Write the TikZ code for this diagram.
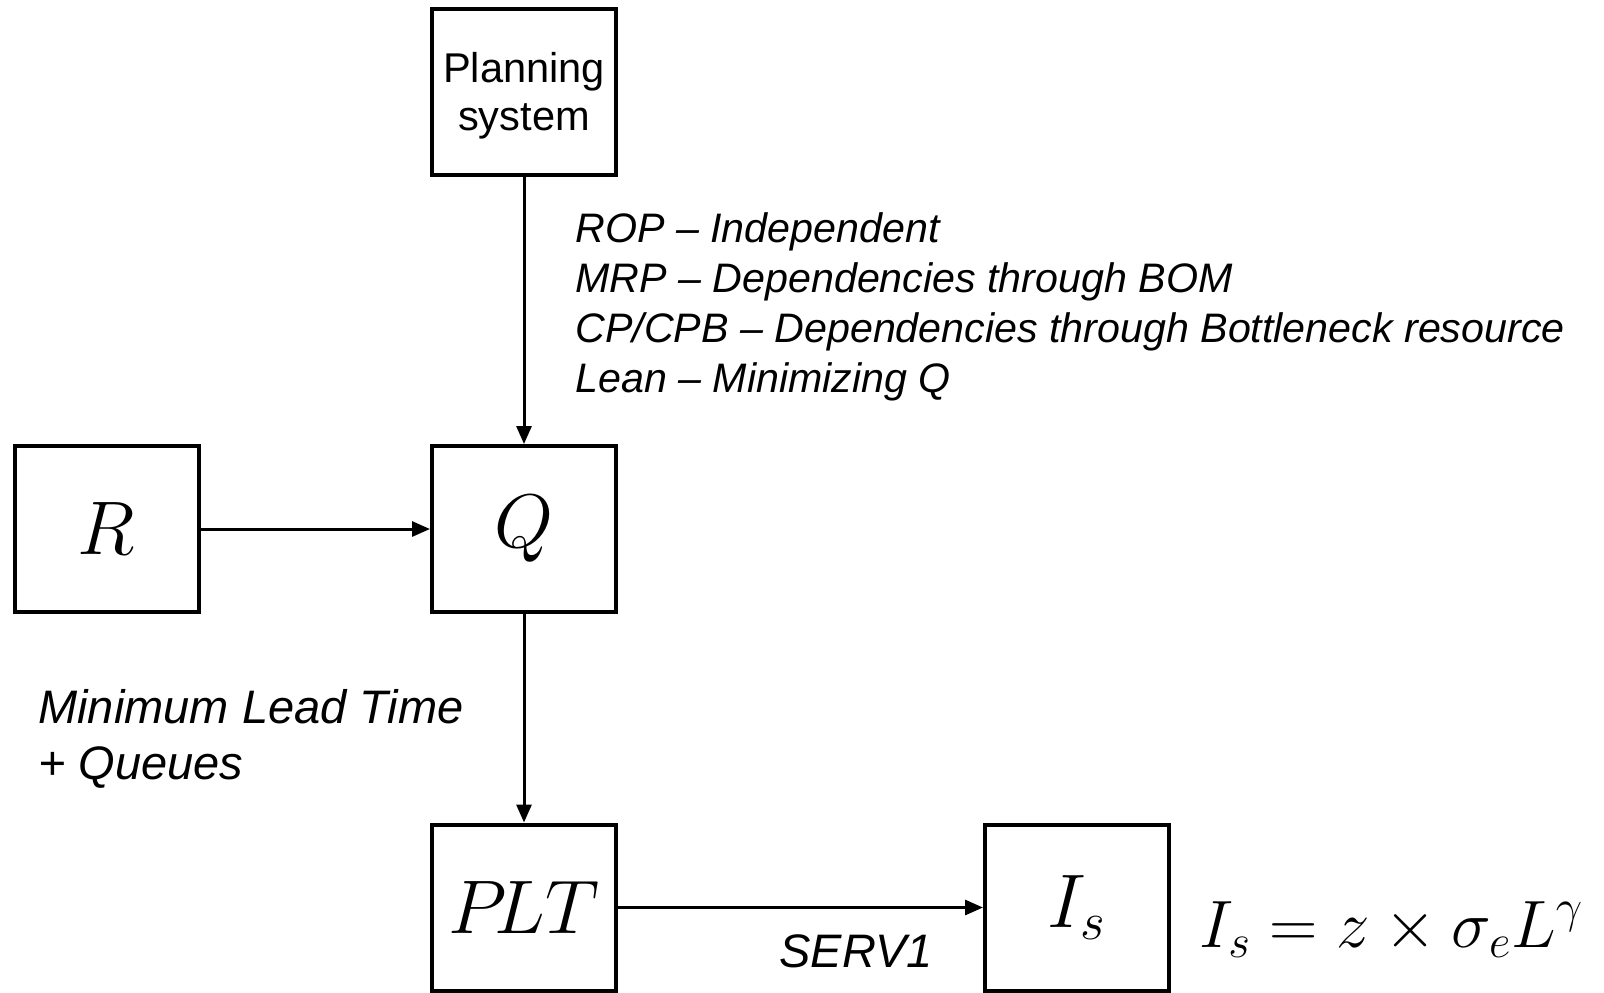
\RequirePackage{fix-cm}
\documentclass[tikz,border=0pt]{standalone}
\usepackage{fontspec}
\newfontfamily\arial[Ligatures=TeX]{Liberation Sans}
\usetikzlibrary{arrows.meta}
\begin{document}
\begin{tikzpicture}[x=0.5pt,y=-0.5pt,
  blockbox/.style={draw=black,line width=2pt,minimum width=92pt,minimum height=83pt,inner sep=0pt,fill=white},
  flowarrow/.style={line width=1.5pt,-{Triangle[length=9pt,width=7.5pt]}},
  lbl/.style={font=\arial\itshape\fontsize{20.6}{25}\selectfont,inner sep=0pt},
  bigmath/.style={font=\fontsize{38}{40}\selectfont}]
\fill[white] (0,0) rectangle (1604,992);
\useasboundingbox (0,0) rectangle (1604,992);
\node[blockbox] (plan) at (524,91.5) {};
\node[align=center,inner sep=0pt,font=\arial\fontsize{20.8}{24}\selectfont] (plantext) at (524,95.5) {Planning\\system};
\node[blockbox,bigmath] (R) at (106.5,529) {$R$};
\node[blockbox,bigmath] (Q) at (524,529) {$Q$};
\node[blockbox,bigmath] (PLT) at (524,907.5) {$P\!LT$};
\node[blockbox,bigmath] (Is) at (1077,907.5) {$I_s$};
\draw[flowarrow] (plan.south) -- (Q.north);
\draw[flowarrow] (R.east) -- (Q.west);
\draw[flowarrow] (Q.south) -- (PLT.north);
\draw[flowarrow] (PLT.east) -- (Is.west);
\node[lbl,align=left,anchor=west] (plans) at (575,307) {ROP -- Independent\\MRP -- Dependencies through BOM\\CP/CPB -- Dependencies through Bottleneck resource\\Lean -- Minimizing Q};
\node[lbl,align=left,anchor=west,font=\arial\itshape\fontsize{23.5}{28}\selectfont] (mlt) at (38,739) {Minimum Lead Time\\+ Queues};
\node[lbl,font=\arial\itshape\fontsize{23.5}{26}\selectfont] (serv) at (856,951) {SERV1};
\node[anchor=base west,inner sep=0pt,font=\fontsize{33.5}{36}\selectfont] (formula) at (1199,947) {$I_s = z \times \sigma_e L^{\gamma}$};
\end{tikzpicture}
\end{document}
